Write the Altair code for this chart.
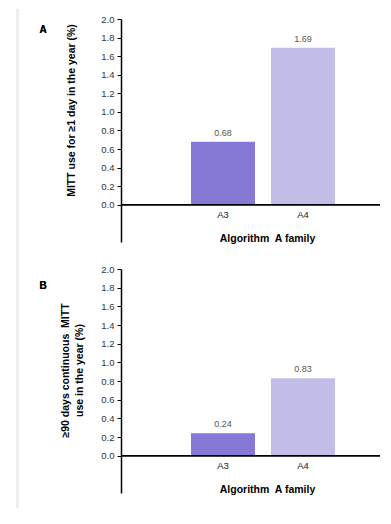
import altair as alt
import pandas as pd

categories = ["A3", "A4"]
values_a = [0.68, 1.69]
values_b = [0.24, 0.83]
bar_colors = ["#8679d6", "#c3bde9"]
y_ticks = [0.0, 0.2, 0.4, 0.6, 0.8, 1.0, 1.2, 1.4, 1.6, 1.8, 2.0]
x_title = "Algorithm\u00a0 A family"
y_title_a = "MITT use for \u22651 day in the year (%)"
y_title_b = ["\u226590 days continuous\u00a0 MITT", "use in the year (%)"]
panel_labels = ["A", "B"]

FONT = "Liberation Sans"
W = 259


def panel(values, label, ytitle, height, title_y, title_x, label_y, stripe):
    df = pd.DataFrame({"cat": categories, "val": values})
    zero_px = height * 2.0 / 2.4
    yscale = alt.Scale(domain=[-0.4, 2.0], nice=False, zero=False)
    xscale = alt.Scale(domain=categories, range=[62, 222], paddingInner=0.2, paddingOuter=0.1)
    xaxis = alt.Axis(title=x_title, domain=False, ticks=False, labelAngle=0,
                     offset=-(height - zero_px), labelPadding=5,
                     labelFont=FONT, labelFontSize=9.5, labelColor="#222",
                     titleFont=FONT, titleFontSize=10.5, titleFontWeight="bold",
                     titleColor="#000", titleX=146, titlePadding=14.5)
    yaxis = alt.Axis(values=y_ticks, format=".1f", grid=False, domainColor="#000",
                     domainWidth=1.5, tickColor="#000", tickSize=4, tickWidth=1,
                     labelOverlap=False, labelFlush=False, tickCount=11,
                     labelPadding=3, labelFont=FONT, labelFontSize=9.5,
                     labelColor="#333", title=ytitle, titleFont=FONT,
                     titleFontSize=10.5, titleFontWeight="bold", titleColor="#000",
                     titleAngle=-90, titleX=title_x, titleY=title_y,
                     titleAlign="center", titleBaseline="middle",
                     titleLineHeight=13.5)
    base = alt.Chart(df)
    bars = base.mark_bar().encode(
        x=alt.X("cat:N", scale=xscale, sort=categories, axis=xaxis),
        y=alt.Y("val:Q", scale=yscale, axis=yaxis),
        color=alt.Color("cat:N", scale=alt.Scale(domain=categories, range=bar_colors), legend=None),
    )
    texts = base.mark_text(font=FONT, fontSize=9, color="#555", baseline="alphabetic", dy=-6).encode(
        x=alt.X("cat:N", scale=xscale, sort=categories, axis=xaxis),
        y=alt.Y("val:Q", scale=yscale, axis=yaxis),
        text=alt.Text("val:Q", format=".2f"),
    )
    zero_line = base.mark_rule(color="#000", strokeWidth=1.5).encode(
        x=alt.value(0), x2=alt.value(W), y=alt.value(zero_px)
    )
    lab = base.mark_text(font=FONT, fontSize=10, fontWeight="bold", color="#000").encode(
        x=alt.value(-78), y=alt.value(label_y), text=alt.value(label)
    )
    strip = base.mark_rule(color="#ececec", strokeWidth=2).encode(
        x=alt.value(-103.5), y=alt.value(stripe[0]), y2=alt.value(stripe[1])
    )
    return alt.layer(strip, bars, zero_line, texts, lab).properties(width=W, height=height)


pa = panel(values_a, panel_labels[0], y_title_a, 223, 91, -50, 11, (-10, 251))
pb = panel(values_b, panel_labels[1], y_title_b, 224, 101, -55.5, 17, (0, 239))

chart = alt.vconcat(pa, pb, spacing=27, bounds="flush").properties(
    padding={"left": 8, "top": 0, "right": 0, "bottom": 0}
).configure_view(stroke=None).configure_axis(labelFont=FONT, titleFont=FONT)

chart.save("out.html", embed_options={"renderer": "svg", "actions": False})
